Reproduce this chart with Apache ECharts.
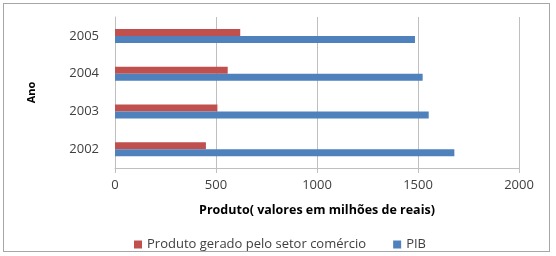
<!DOCTYPE html>
<html>
<head>
<meta charset="utf-8">
<script src="https://cdn.jsdelivr.net/npm/echarts@6/dist/echarts.min.js"></script>
<style>
  html, body { margin: 0; padding: 0; background: #fff; }
  #box { position: absolute; left: 3px; top: 3px; width: 547px; height: 249px; border: 1px solid #a6a6a6; box-sizing: border-box; }
  #chart { width: 556px; height: 256px; }
</style>
</head>
<body>
<div id="box"></div>
<div id="chart"></div>
<script>
  // dados
  var anos = ['2002', '2003', '2004', '2005'];
  var comercio = [450, 507, 558, 620];
  var pib = [1680, 1553, 1523, 1485];
  var xTicks = [0, 500, 1000, 1500, 2000];

  var chart = echarts.init(document.getElementById('chart'));
  var fonte = '"Open Sans", sans-serif';

  chart.setOption({
    animation: false,
    textStyle: { fontFamily: fonte },
    grid: { left: 115, right: 37, top: 17, bottom: 88, containLabel: false },
    legend: {
      data: ['Produto gerado pelo setor comércio', 'PIB'],
      top: 233,
      left: 129,
      itemWidth: 8,
      itemHeight: 8,
      itemGap: 27,
      icon: 'rect',
      textStyle: { fontSize: 13, color: '#404040', fontFamily: fonte }
    },
    xAxis: {
      type: 'value',
      min: xTicks[0],
      max: xTicks[xTicks.length - 1],
      interval: 500,
      name: 'Produto( valores em milhões de reais)',
      nameLocation: 'middle',
      nameGap: 36,
      nameTextStyle: { fontSize: 12.5, fontWeight: 'bold', color: '#000', fontFamily: fonte },
      axisLine: { show: true, lineStyle: { color: '#bfbfbf' } },
      axisTick: { show: true, length: 5, lineStyle: { color: '#bfbfbf' } },
      axisLabel: { fontSize: 13, color: '#404040', margin: 11, formatter: function (v) { return String(v); } },
      splitLine: { show: true, lineStyle: { color: '#bfbfbf' } }
    },
    yAxis: {
      type: 'category',
      data: anos,
      name: 'Ano',
      nameLocation: 'middle',
      nameGap: 78,
      nameRotate: 90,
      nameTextStyle: { fontSize: 11, fontWeight: 'bold', color: '#000', fontFamily: fonte },
      axisLine: { show: true, lineStyle: { color: '#bfbfbf' } },
      axisTick: { show: false },
      axisLabel: { fontSize: 13, color: '#404040', margin: 16 }
    },
    series: [
      {
        name: 'Produto gerado pelo setor comércio',
        type: 'bar',
        data: comercio,
        barWidth: 7,
        barGap: '0%',
        itemStyle: { color: '#c0504d' }
      },
      {
        name: 'PIB',
        type: 'bar',
        data: pib,
        barWidth: 7,
        barGap: '0%',
        itemStyle: { color: '#4f81bd' }
      }
    ]
  });
</script>
</body>
</html>
